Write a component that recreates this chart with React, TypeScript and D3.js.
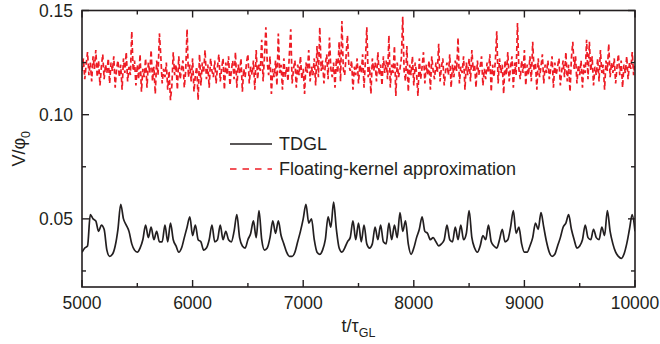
import React from "react";
import * as d3 from "d3";

const T_START = 5000;
const T_END = 10000;

const xTicks = [5000, 6000, 7000, 8000, 9000, 10000];
const xMinorTicks = [5500, 6500, 7500, 8500, 9500];
const yTicks = [0.05, 0.1, 0.15];
const yTickLabels = ["0.05", "0.10", "0.15"];
const yMinorTicks = [0.025, 0.075, 0.125];

const legendLabels = ["TDGL", "Floating-kernel approximation"];

// TDGL, t = 5000..10000 step 25
const tdgl = [
  0.034, 0.036, 0.037, 0.052, 0.050, 0.049, 0.044, 0.047, 0.045, 0.035,
  0.032, 0.033, 0.037, 0.045, 0.057, 0.050, 0.047, 0.044, 0.038, 0.035,
  0.034, 0.036, 0.040, 0.047, 0.041, 0.046, 0.040, 0.044, 0.039, 0.039,
  0.047, 0.039, 0.048, 0.040, 0.037, 0.034, 0.036, 0.041, 0.046, 0.051,
  0.042, 0.047, 0.040, 0.039, 0.035, 0.036, 0.040, 0.047, 0.039, 0.040,
  0.047, 0.040, 0.044, 0.040, 0.039, 0.044, 0.052, 0.041, 0.037, 0.036,
  0.040, 0.043, 0.049, 0.041, 0.054, 0.040, 0.035, 0.036, 0.041, 0.049,
  0.043, 0.049, 0.042, 0.038, 0.034, 0.032, 0.032, 0.034, 0.039, 0.044,
  0.050, 0.057, 0.048, 0.050, 0.040, 0.034, 0.033, 0.035, 0.040, 0.051,
  0.046, 0.058, 0.045, 0.036, 0.034, 0.036, 0.039, 0.041, 0.049, 0.040,
  0.048, 0.039, 0.047, 0.038, 0.036, 0.038, 0.046, 0.040, 0.047, 0.039,
  0.038, 0.048, 0.040, 0.047, 0.041, 0.053, 0.044, 0.049, 0.038, 0.033,
  0.036, 0.041, 0.045, 0.051, 0.044, 0.043, 0.040, 0.041, 0.039, 0.037,
  0.038, 0.040, 0.047, 0.040, 0.039, 0.046, 0.040, 0.047, 0.040, 0.043,
  0.054, 0.041, 0.036, 0.034, 0.037, 0.042, 0.040, 0.047, 0.039, 0.037,
  0.036, 0.040, 0.045, 0.039, 0.040, 0.046, 0.054, 0.043, 0.046, 0.038,
  0.034, 0.034, 0.037, 0.041, 0.048, 0.045, 0.053, 0.046, 0.039, 0.034,
  0.032, 0.033, 0.037, 0.041, 0.046, 0.048, 0.052, 0.045, 0.040, 0.036,
  0.037, 0.040, 0.047, 0.041, 0.040, 0.045, 0.041, 0.040, 0.046, 0.042,
  0.054, 0.044, 0.038, 0.034, 0.032, 0.031, 0.033, 0.038, 0.045, 0.052,
  0.044,
];

// Floating-kernel approximation, t = 5000..10000 step 12.5
const floating = [
  0.121, 0.127, 0.117, 0.124, 0.130, 0.119, 0.125, 0.116, 0.128, 0.122, 0.131, 0.118, 0.126, 0.114, 0.123, 0.129, 0.117, 0.124, 0.120, 0.127,
  0.115, 0.125, 0.121, 0.128, 0.113, 0.122, 0.126, 0.118, 0.124, 0.112, 0.127, 0.120, 0.130, 0.116, 0.123, 0.119, 0.140, 0.121, 0.126, 0.114,
  0.124, 0.117, 0.129, 0.111, 0.122, 0.118, 0.127, 0.113, 0.125, 0.120, 0.131, 0.116, 0.123, 0.110, 0.126, 0.119, 0.139, 0.128, 0.115, 0.122,
  0.118, 0.125, 0.112, 0.121, 0.107, 0.114, 0.130, 0.119, 0.124, 0.112, 0.128, 0.117, 0.122, 0.126, 0.113, 0.121, 0.141, 0.118, 0.124, 0.116,
  0.127, 0.111, 0.119, 0.123, 0.107, 0.129, 0.114, 0.125, 0.120, 0.131, 0.117, 0.124, 0.113, 0.127, 0.121, 0.118, 0.126, 0.115, 0.123, 0.129,
  0.116, 0.122, 0.127, 0.112, 0.125, 0.119, 0.128, 0.114, 0.121, 0.126, 0.117, 0.130, 0.113, 0.124, 0.120, 0.127, 0.111, 0.122, 0.118, 0.125,
  0.129, 0.115, 0.123, 0.119, 0.126, 0.112, 0.131, 0.117, 0.124, 0.121, 0.136, 0.116, 0.128, 0.142, 0.125, 0.119, 0.128, 0.110, 0.122, 0.118,
  0.126, 0.114, 0.139, 0.120, 0.124, 0.112, 0.127, 0.118, 0.123, 0.116, 0.129, 0.141, 0.115, 0.122, 0.126, 0.113, 0.124, 0.119, 0.128, 0.117,
  0.122, 0.110, 0.125, 0.120, 0.131, 0.116, 0.123, 0.119, 0.127, 0.114, 0.133, 0.118, 0.142, 0.121, 0.126, 0.115, 0.124, 0.129, 0.117, 0.137,
  0.122, 0.118, 0.125, 0.113, 0.127, 0.120, 0.135, 0.116, 0.145, 0.122, 0.119, 0.128, 0.138, 0.124, 0.121, 0.126, 0.112, 0.123, 0.119, 0.127,
  0.115, 0.124, 0.120, 0.129, 0.113, 0.126, 0.142, 0.118, 0.123, 0.110, 0.127, 0.121, 0.125, 0.116, 0.130, 0.119, 0.124, 0.114, 0.128, 0.120,
  0.126, 0.117, 0.138, 0.113, 0.124, 0.120, 0.133, 0.109, 0.125, 0.118, 0.122, 0.127, 0.147, 0.121, 0.116, 0.133, 0.111, 0.124, 0.119, 0.128,
  0.114, 0.125, 0.120, 0.109, 0.127, 0.117, 0.123, 0.130, 0.115, 0.124, 0.119, 0.126, 0.112, 0.128, 0.121, 0.117, 0.125, 0.120, 0.134, 0.116,
  0.123, 0.127, 0.114, 0.121, 0.125, 0.119, 0.129, 0.113, 0.124, 0.118, 0.126, 0.121, 0.137, 0.115, 0.123, 0.120, 0.128, 0.112, 0.125, 0.119,
  0.127, 0.116, 0.131, 0.121, 0.124, 0.113, 0.126, 0.119, 0.123, 0.128, 0.114, 0.122, 0.117, 0.125, 0.120, 0.129, 0.111, 0.124, 0.118, 0.126,
  0.140, 0.115, 0.127, 0.120, 0.124, 0.110, 0.126, 0.119, 0.130, 0.116, 0.123, 0.128, 0.113, 0.125, 0.119, 0.144, 0.122, 0.117, 0.126, 0.120,
  0.131, 0.114, 0.124, 0.119, 0.128, 0.116, 0.135, 0.121, 0.125, 0.112, 0.127, 0.118, 0.123, 0.129, 0.115, 0.124, 0.120, 0.126, 0.117, 0.122,
  0.128, 0.113, 0.125, 0.119, 0.123, 0.127, 0.114, 0.121, 0.126, 0.118, 0.130, 0.116, 0.124, 0.111, 0.127, 0.135, 0.122, 0.128, 0.115, 0.124,
  0.119, 0.126, 0.113, 0.124, 0.120, 0.136, 0.117, 0.135, 0.121, 0.128, 0.114, 0.123, 0.119, 0.127, 0.116, 0.131, 0.120, 0.124, 0.112, 0.126,
  0.121, 0.134, 0.118, 0.125, 0.120, 0.127, 0.115, 0.123, 0.129, 0.119, 0.126, 0.113, 0.124, 0.120, 0.128, 0.117, 0.125, 0.122, 0.130, 0.119,
  0.126,
];

const W = 660;
const H = 344;
const M = { left: 82, right: 25, top: 10.5, bottom: 57 };
const FONT = "'Liberation Sans', Arial, Helvetica, sans-serif";
const RED = "#ee1c25";
const INK = "#231f20";

export default function App() {
  const x = d3.scaleLinear().domain([T_START, T_END]).range([M.left, W - M.right]);
  const y = d3.scaleLinear().domain([0.0173, 0.15]).range([H - M.bottom, M.top]);

  const tdglStep = (T_END - T_START) / (tdgl.length - 1);
  const flStep = (T_END - T_START) / (floating.length - 1);

  const line = d3.line<[number, number]>().x((d) => x(d[0])).y((d) => y(d[1]));
  const smooth = d3
    .line<[number, number]>()
    .x((d) => x(d[0]))
    .y((d) => y(d[1]))
    .curve(d3.curveMonotoneX);
  const tdglPath = smooth(tdgl.map((v, i) => [T_START + i * tdglStep, v]));
  const flPath = line(floating.map((v, i) => [T_START + i * flStep, v]));

  const x0 = x.range()[0];
  const x1 = x.range()[1];
  const y0 = y.range()[0];
  const y1 = y.range()[1];
  const major = 7;
  const minor = 4;

  return (
    <svg width={W} height={H} style={{ position: "absolute", left: 0, top: 0 }} fontFamily={FONT}>
      <rect width={W} height={H} fill="#fff" />
      <defs>
        <clipPath id="plot">
          <rect x={x0} y={y1} width={x1 - x0} height={y0 - y1} />
        </clipPath>
      </defs>
      <g clipPath="url(#plot)">
        <path d={flPath ?? ""} fill="none" stroke={RED} strokeWidth={1.7} strokeDasharray="5,3" />
        <path d={tdglPath ?? ""} fill="none" stroke={INK} strokeWidth={1.7} strokeLinejoin="round" />
      </g>

      {/* frame */}
      <rect x={x0} y={y1} width={x1 - x0} height={y0 - y1} fill="none" stroke={INK} strokeWidth={1.6} />

      {/* x ticks */}
      {xTicks.map((t) => (
        <g key={"xt" + t}>
          <line x1={x(t)} x2={x(t)} y1={y0} y2={y0 - major} stroke={INK} strokeWidth={1.4} />
          <line x1={x(t)} x2={x(t)} y1={y1} y2={y1 + major} stroke={INK} strokeWidth={1.4} />
          <text x={x(t)} y={y0 + 22} textAnchor="middle" fontSize={17.5} fill={INK}>
            {t}
          </text>
        </g>
      ))}
      {xMinorTicks.map((t) => (
        <g key={"xm" + t}>
          <line x1={x(t)} x2={x(t)} y1={y0} y2={y0 - minor} stroke={INK} strokeWidth={1.4} />
          <line x1={x(t)} x2={x(t)} y1={y1} y2={y1 + minor} stroke={INK} strokeWidth={1.4} />
        </g>
      ))}

      {/* y ticks */}
      {yTicks.map((t, i) => (
        <g key={"yt" + t}>
          <line x1={x0} x2={x0 + major} y1={y(t)} y2={y(t)} stroke={INK} strokeWidth={1.4} />
          <line x1={x1} x2={x1 - major} y1={y(t)} y2={y(t)} stroke={INK} strokeWidth={1.4} />
          <text x={x0 - 9} y={y(t)} dy="0.35em" textAnchor="end" fontSize={17.5} fill={INK}>
            {yTickLabels[i]}
          </text>
        </g>
      ))}
      {yMinorTicks.map((t) => (
        <g key={"ym" + t}>
          <line x1={x0} x2={x0 + minor} y1={y(t)} y2={y(t)} stroke={INK} strokeWidth={1.4} />
          <line x1={x1} x2={x1 - minor} y1={y(t)} y2={y(t)} stroke={INK} strokeWidth={1.4} />
        </g>
      ))}

      {/* axis titles */}
      <text x={(x0 + x1) / 2} y={H - 12} textAnchor="middle" fontSize={18} fill={INK}>
        t/τ
        <tspan fontSize={12.5} dy={5}>GL</tspan>
      </text>
      <text
        transform={`translate(${25},${(y0 + y1) / 2}) rotate(-90)`}
        textAnchor="middle"
        fontSize={18}
        fill={INK}
      >
        V/φ
        <tspan fontSize={12.5} dy={5}>0</tspan>
      </text>

      {/* legend */}
      <line x1={230} x2={272} y1={144} y2={144} stroke={INK} strokeWidth={1.6} />
      <text x={279} y={150} fontSize={18} fill={INK}>
        {legendLabels[0]}
      </text>
      <line x1={230} x2={272} y1={169} y2={169} stroke={RED} strokeWidth={1.6} strokeDasharray="6.5,6" />
      <text x={279} y={175} fontSize={18} fill={INK}>
        {legendLabels[1]}
      </text>
    </svg>
  );
}
